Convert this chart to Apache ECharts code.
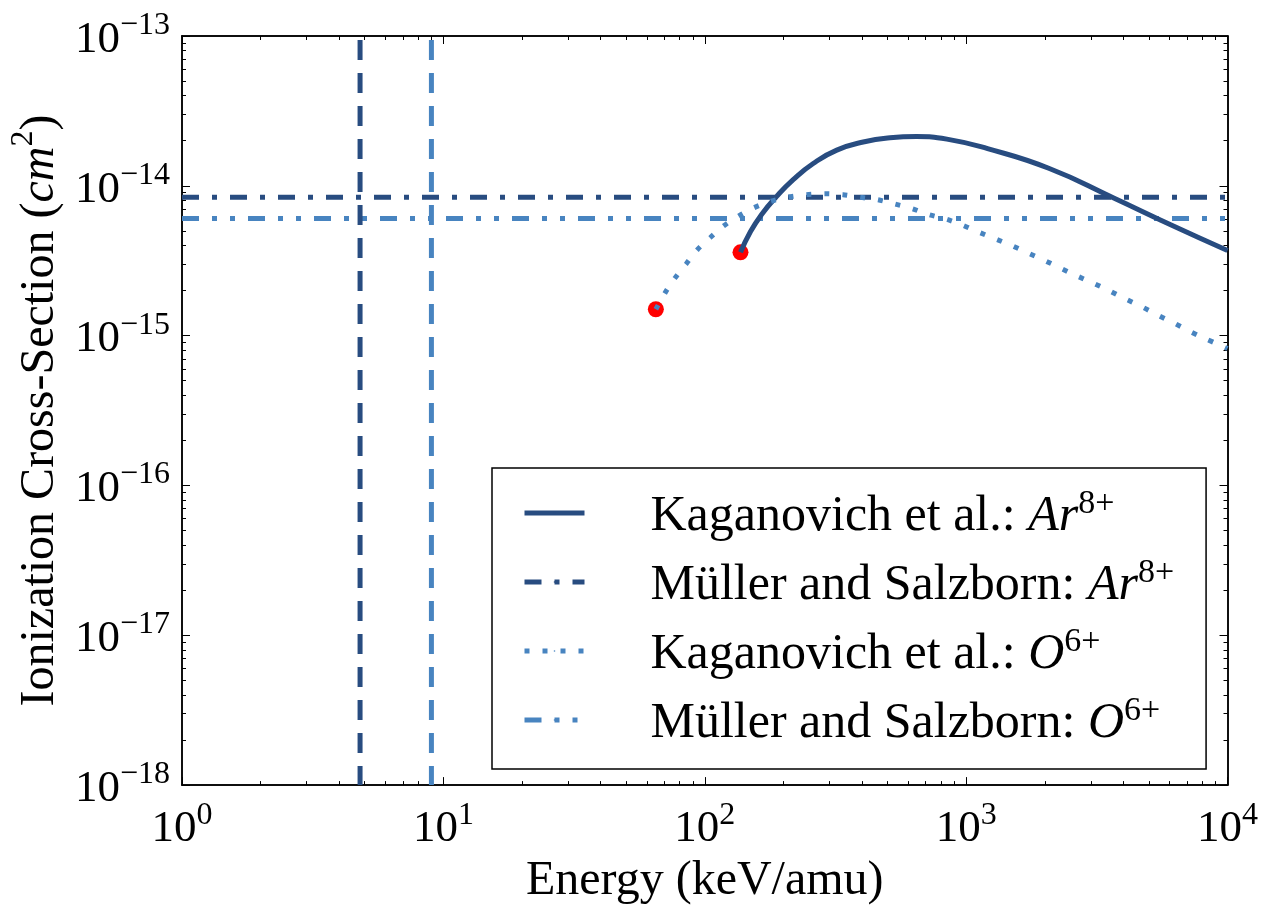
<!DOCTYPE html>
<html>
<head>
    <meta charset="utf-8">
    <title>Ionization Cross-Section</title>
    <script src="https://cdn.jsdelivr.net/npm/echarts@6/dist/echarts.min.js"></script>
</head>
<body style="margin:0">
    <div id="main" style="width:1261px;height:910px;"></div>
<script type="text/javascript">
    // Kaganovich et al. curves (energy in keV/amu, cross-section in cm^2)
    var arKagE = [137, 149, 165, 188.5, 218, 260, 320, 404, 511, 646, 844, 1208, 2070, 3670, 6060, 10000];
    var arKagS = [3.6e-15, 4.88e-15, 6.44e-15, 8.51e-15, 1.1e-14, 1.41e-14, 1.73e-14, 1.96e-14, 2.09e-14, 2.13e-14,
        2.05e-14, 1.77e-14, 1.31e-14, 8.3e-15, 5.5e-15, 3.7e-15];
    var oKagE = [65, 70.5, 77, 85, 93.5, 105, 118, 135, 154, 179, 209, 244, 287, 338, 394, 458, 532, 620, 718, 844, 966,
        1125, 1300, 1500, 1730, 2000, 2300, 2660, 3080, 3540, 4090, 4730, 5410, 6260, 7160, 8280, 10000];
    var oKagS = [1.5e-15, 1.93e-15, 2.43e-15, 3.02e-15, 3.73e-15, 4.52e-15, 5.4e-15, 6.29e-15, 7.13e-15, 7.88e-15, 8.42e-15,
        8.73e-15, 8.86e-15, 8.73e-15, 8.38e-15, 8.09e-15, 7.57e-15, 7.05e-15, 6.44e-15, 5.97e-15, 5.48e-15,
        4.88e-15, 4.41e-15, 3.98e-15, 3.55e-15, 3.17e-15, 2.82e-15, 2.5e-15, 2.23e-15, 1.99e-15, 1.75e-15, 1.55e-15,
        1.37e-15, 1.21e-15, 1.07e-15, 9.5e-16, 8.2e-16];
    // Müller and Salzborn constant values
    var arMuller = 8.4e-15;
    var oMuller = 6.05e-15;
    // threshold energies (vertical lines)
    var arThresh = 4.8;
    var oThresh = 9.0;
    // red start points
    var startE = [65, 137];
    var startS = [1.5e-15, 3.6e-15];

    var xRange = [1, 1e4];
    var yRange = [1e-18, 1e-13];
    var xMajor = [1, 10, 100, 1000, 10000];
    var yMajor = [1e-18, 1e-17, 1e-16, 1e-15, 1e-14, 1e-13];

    var legendNames = ['Kaganovich et al.: Ar8+', 'Müller and Salzborn: Ar8+', 'Kaganovich et al.: O6+', 'Müller and Salzborn: O6+'];

    var dark = '#284c80';
    var light = '#4884c0';
    var font = 'Liberation Serif';

    var dashDot = [17, 13, 5, 13];
    var dashDotDot = [17, 13, 5, 13, 5, 13];
    var dotted = [5, 13];

    function minors(list) {
        var out = [];
        for (var i = 0; i < list.length - 1; i++) {
            for (var k = 2; k < 10; k++) out.push(list[i] * k);
        }
        return out;
    }
    var xMinor = minors(xMajor);
    var yMinor = minors(yMajor);

    function pairs(xs, ys) {
        return xs.map(function (x, i) { return [x, ys[i]]; });
    }

    var powLabel = function (v) {
        var e = Math.round(Math.log10(v));
        return '{b|10}{s|' + (e < 0 ? '\u2212' + (-e) : e) + '}';
    };
    var powRich = {
        b: { fontSize: 45, fontFamily: font, color: '#000', padding: [8, 0, 0, 0] },
        s: { fontSize: 32, fontFamily: font, color: '#000', verticalAlign: 'top', lineHeight: 30 }
    };

    function xAxisDef(pos, ticks, len, labels) {
        return {
            type: 'log', logBase: 10, min: xRange[0], max: xRange[1], position: pos,
            axisLine: { show: true, onZero: false, lineStyle: { color: '#000', width: 1.5 } },
            axisTick: { show: true, inside: true, length: len, customValues: ticks, lineStyle: { color: '#000', width: 1 } },
            axisLabel: labels ? { show: true, customValues: ticks, margin: 14, formatter: powLabel, rich: powRich } : { show: false },
            splitLine: { show: false }, minorTick: { show: false }
        };
    }
    function yAxisDef(pos, ticks, len, labels) {
        return {
            type: 'log', logBase: 10, min: yRange[0], max: yRange[1], position: pos,
            axisLine: { show: true, onZero: false, lineStyle: { color: '#000', width: 1.5 } },
            axisTick: { show: true, inside: true, length: len, customValues: ticks, lineStyle: { color: '#000', width: 1 } },
            axisLabel: labels ? { show: true, customValues: ticks, margin: 12, formatter: powLabel, rich: powRich } : { show: false },
            splitLine: { show: false }, minorTick: { show: false }
        };
    }

    var xAxes = [
        xAxisDef('bottom', xMajor, 8, true),
        xAxisDef('bottom', xMinor, 4, false),
        xAxisDef('top', xMajor, 8, false),
        xAxisDef('top', xMinor, 4, false)
    ];
    xAxes[0].name = 'Energy (keV/amu)';
    xAxes[0].nameLocation = 'middle';
    xAxes[0].nameGap = 70;
    xAxes[0].nameTextStyle = { fontSize: 48, fontFamily: font, color: '#000' };

    var yAxes = [
        yAxisDef('left', yMajor, 8, true),
        yAxisDef('left', yMinor, 4, false),
        yAxisDef('right', yMajor, 8, false),
        yAxisDef('right', yMinor, 4, false)
    ];
    yAxes[0].name = '{a|Ionization Cross-Section (}{i|cm}{s|2}{a|)}';
    yAxes[0].nameLocation = 'middle';
    yAxes[0].nameGap = 116;
    yAxes[0].nameRotate = 90;
    yAxes[0].nameTextStyle = {
        color: '#000',
        rich: {
            a: { fontSize: 48, fontFamily: font, color: '#000', padding: [8, 0, 0, 0] },
            i: { fontSize: 48, fontFamily: font, fontStyle: 'italic', color: '#000', padding: [8, 0, 0, 0] },
            s: { fontSize: 32, fontFamily: font, color: '#000', verticalAlign: 'top', lineHeight: 32 }
        }
    };

    var legendRich = {
        sp: { width: 61 },
        t: { fontSize: 50, fontFamily: font, color: '#000', lineHeight: 52, padding: [8, 0, 0, 0] },
        i: { fontSize: 50, fontFamily: font, fontStyle: 'italic', color: '#000', lineHeight: 52, padding: [8, 0, 0, 0] },
        s: { fontSize: 34, fontFamily: font, color: '#000', verticalAlign: 'top', lineHeight: 34 }
    };

    var myChart = echarts.init(document.getElementById('main'));
    var option = {
        backgroundColor: '#fff',
        animation: false,
        grid: { left: 182, right: 33, top: 36, bottom: 116, containLabel: false },
        xAxis: xAxes,
        yAxis: yAxes,
        legend: {
            data: [
                { name: legendNames[0], lineStyle: { width: 5 } },
                { name: legendNames[1], lineStyle: { width: 5 } },
                { name: legendNames[2], lineStyle: { width: 5 } },
                { name: legendNames[3], lineStyle: { width: 5 } }
            ],
            orient: 'vertical',
            left: 492,
            top: 468,
            padding: [16, 32, 20, 30],
            itemGap: 11,
            itemWidth: 60,
            itemHeight: 2,
            borderColor: '#000',
            borderWidth: 1.5,
            borderRadius: 0,
            backgroundColor: '#fff',
            formatter: function (name) {
                var m = name.match(/^(.*: )(Ar|O)(\d\+)$/);
                return '{sp|}{t|' + m[1] + '}{i|' + m[2] + '}{s|' + m[3] + '}';
            },
            textStyle: { rich: legendRich }
        },
        series: [
            {
                name: legendNames[0], type: 'line', data: pairs(arKagE, arKagS), smooth: 0.5,
                symbol: 'none', z: 5, lineStyle: { color: dark, width: 5, type: 'solid' }, itemStyle: { color: dark }
            },
            {
                name: legendNames[1], type: 'line', data: [[xRange[0], arMuller], [xRange[1], arMuller]],
                symbol: 'none', z: 4, lineStyle: { color: dark, width: 5, type: dashDot }, itemStyle: { color: dark }
            },
            {
                name: legendNames[2], type: 'line', data: pairs(oKagE, oKagS), smooth: 0.3,
                symbol: 'none', z: 5, lineStyle: { color: light, width: 5, type: dotted }, itemStyle: { color: light }
            },
            {
                name: legendNames[3], type: 'line', data: [[xRange[0], oMuller], [xRange[1], oMuller]],
                symbol: 'none', z: 4, lineStyle: { color: light, width: 5, type: dashDotDot }, itemStyle: { color: light }
            },
            {
                name: 'Ar threshold', type: 'line', data: [[arThresh, yRange[1]], [arThresh, yRange[0]]],
                symbol: 'none', z: 4, lineStyle: { color: dark, width: 5, type: [20, 13], dashOffset: -4 }
            },
            {
                name: 'O threshold', type: 'line', data: [[oThresh, yRange[1]], [oThresh, yRange[0]]],
                symbol: 'none', z: 4, lineStyle: { color: light, width: 5, type: [20, 13], dashOffset: -4 }
            },
            {
                name: 'start', type: 'scatter', data: pairs(startE, startS), symbolSize: 16, z: 3,
                itemStyle: { color: '#ff0000', opacity: 1 }
            }
        ]
    };
    myChart.setOption(option);
</script>
</body>
</html>
